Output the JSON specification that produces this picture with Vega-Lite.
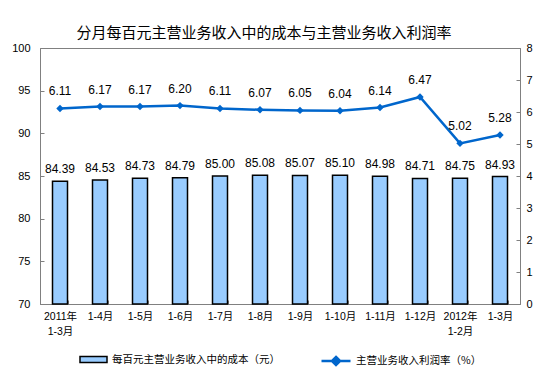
{
  "$schema": "https://vega.github.io/schema/vega-lite/v6.json",
  "width": 480,
  "height": 256,
  "autosize": {"type": "none"},
  "padding": {"left": 40, "top": 48, "right": 34, "bottom": 67},
  "background": "white",
  "title": {
    "text": "分月每百元主营业务收入中的成本与主营业务收入利润率",
    "font": "Noto Sans CJK SC",
    "fontSize": 15,
    "fontWeight": "normal",
    "color": "#000000",
    "offset": 1,
    "dx": -16
  },
  "data": {
    "values": [
      {"period": "2011年 1-3月", "cost": 84.39, "rate": 6.11},
      {"period": "1-4月", "cost": 84.53, "rate": 6.17},
      {"period": "1-5月", "cost": 84.73, "rate": 6.17},
      {"period": "1-6月", "cost": 84.79, "rate": 6.20},
      {"period": "1-7月", "cost": 85.00, "rate": 6.11},
      {"period": "1-8月", "cost": 85.08, "rate": 6.07},
      {"period": "1-9月", "cost": 85.07, "rate": 6.05},
      {"period": "1-10月", "cost": 85.10, "rate": 6.04},
      {"period": "1-11月", "cost": 84.98, "rate": 6.14},
      {"period": "1-12月", "cost": 84.71, "rate": 6.47},
      {"period": "2012年 1-2月", "cost": 84.75, "rate": 5.02},
      {"period": "1-3月", "cost": 84.93, "rate": 5.28}
    ]
  },
  "encoding": {
    "x": {
      "field": "period",
      "type": "nominal",
      "sort": null,
      "scale": {"paddingInner": 0.625, "paddingOuter": 0.3125},
      "axis": {
        "title": null,
        "labelAngle": 0,
        "labelExpr": "split(datum.label, ' ')",
        "labelLineHeight": 15,
        "labelFont": "Liberation Sans, Noto Sans CJK SC",
        "labelFontSize": 10.5,
        "labelBaseline": "top",
        "tickBand": "extent",
        "tickSize": -4,
        "labelPadding": 11
      }
    }
  },
  "layer": [
    {
      "encoding": {
        "y": {
          "field": "cost",
          "type": "quantitative",
          "scale": {"domain": [70, 100], "zero": false, "nice": false},
          "axis": {
            "orient": "left",
            "title": null,
            "values": [70, 75, 80, 85, 90, 95, 100],
            "tickSize": -4,
            "labelPadding": 14,
            "labelFontSize": 11,
            "labelOverlap": false
          }
        }
      },
      "layer": [
        {
          "mark": {"type": "bar", "stroke": "#000000", "strokeWidth": 1.5},
          "encoding": {
            "y2": {"datum": 70},
            "fill": {
              "datum": "每百元主营业务收入中的成本（元）",
              "type": "nominal",
              "scale": {"range": ["#99CCFF"]},
              "legend": {
                "title": null,
                "orient": "bottom",
                "symbolType": "M-1,-0.22H1V0.22H-1Z",
                "symbolSize": 729,
                "symbolStrokeColor": "#000000",
                "symbolStrokeWidth": 1.5,
                "labelFont": "Noto Sans CJK SC",
                "labelFontSize": 10.5,
                "labelColor": "#000000",
                "labelLimit": 0,
                "offset": 8
              }
            }
          }
        },
        {
          "mark": {
            "type": "text",
            "baseline": "bottom",
            "dy": -5,
            "font": "Liberation Sans",
            "fontSize": 12,
            "color": "#000000"
          },
          "encoding": {
            "text": {"field": "cost", "type": "quantitative", "format": ".2f"}
          }
        }
      ]
    },
    {
      "encoding": {
        "y": {
          "field": "rate",
          "type": "quantitative",
          "scale": {"domain": [0, 8], "nice": false},
          "axis": {
            "orient": "right",
            "title": null,
            "values": [0, 1, 2, 3, 4, 5, 6, 7, 8],
            "tickSize": -4,
            "labelPadding": 10,
            "labelFontSize": 11,
            "labelOverlap": false
          }
        }
      },
      "layer": [
        {
          "mark": {"type": "line", "strokeWidth": 2.5},
          "encoding": {
            "stroke": {
              "datum": "主营业务收入利润率（%）",
              "type": "nominal",
              "scale": {"range": ["#0066CC"]},
              "legend": {
                "title": null,
                "orient": "bottom",
                "symbolType": "M-1,0H1M0,-0.28L0.28,0L0,0.28L-0.28,0Z",
                "symbolSize": 841,
                "symbolFillColor": "#0066CC",
                "symbolStrokeWidth": 2.5,
                "labelFont": "Noto Sans CJK SC",
                "labelFontSize": 10.5,
                "labelColor": "#000000",
                "labelLimit": 0,
                "offset": 8
              }
            }
          }
        },
        {
          "mark": {"type": "point", "shape": "diamond", "filled": true, "color": "#0066CC", "size": 55, "opacity": 1},
          "encoding": {}
        },
        {
          "mark": {
            "type": "text",
            "baseline": "bottom",
            "dy": -10,
            "font": "Liberation Sans",
            "fontSize": 12,
            "color": "#000000"
          },
          "encoding": {
            "text": {"field": "rate", "type": "quantitative", "format": ".2f"}
          }
        }
      ]
    }
  ],
  "resolve": {"scale": {"y": "independent"}},
  "config": {
    "view": {"stroke": "#808080", "strokeWidth": 1},
    "axis": {
      "grid": false,
      "domainColor": "#808080",
      "tickColor": "#808080",
      "labelColor": "#000000",
      "labelFont": "Liberation Sans"
    },
    "legend": {
      "layout": {"bottom": {"anchor": "middle", "margin": 40}}
    }
  }
}
